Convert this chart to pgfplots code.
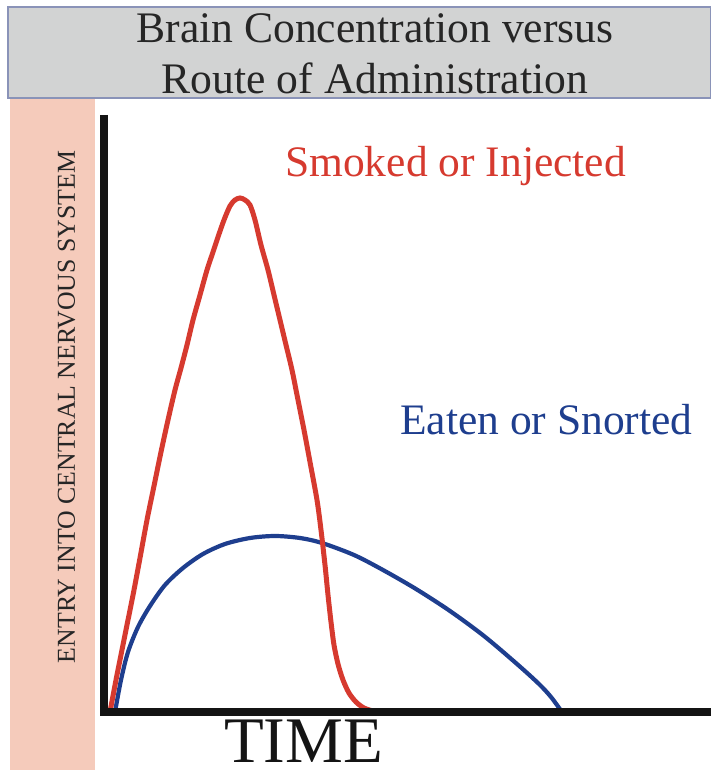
\documentclass[border=0pt]{standalone}
\usepackage{pgfplots}
\pgfplotsset{compat=1.18}
\usepackage{fontspec}
\setmainfont{Liberation Serif}
\definecolor{cred}{HTML}{D63A2F}
\definecolor{cblue}{HTML}{1E3E8E}
\definecolor{boxgray}{HTML}{D2D3D3}
\definecolor{boxedge}{HTML}{8A93B8}
\definecolor{bandpink}{HTML}{F5CBBB}
\definecolor{axblack}{HTML}{141414}
\begin{document}
\begin{tikzpicture}
\begin{axis}[
  anchor=origin, at={(0pt,0pt)},
  scale only axis, width=607pt, height=597pt,
  xmin=0, xmax=607, ymin=0, ymax=597,
  hide axis, clip=false,
]
% backgrounds
\fill[bandpink] (axis cs:-94,614) rectangle (axis cs:-9,-58);
\filldraw[fill=boxgray, draw=boxedge, line width=1.5pt] (axis cs:-96,705) rectangle (axis cs:607,614);
% title
\node[anchor=base, inner sep=0pt, font=\fontsize{43.6}{48}\selectfont, text=black!85] at (axis cs:271,669) {Brain Concentration versus};
\node[anchor=base, inner sep=0pt, font=\fontsize{43.6}{48}\selectfont, text=black!85] at (axis cs:271,618) {Route of Administration};
% curves
\addplot[cblue, line width=4.2pt, smooth, tension=0.5] coordinates {
(11,0) (17,32) (24,60) (34,85) (46,106) (61,127) (79,144) (99,158)
(121,168) (146,174) (171,176) (196,174) (218,169) (250,157) (279,142)
(312,123) (346,101) (380,76) (413,48) (435,28) (447,15) (458,0)
};
\addplot[cred, line width=5pt, smooth, tension=0.5] coordinates {
(6,0) (12,32) (18,62) (24,92) (30,122) (36,154) (43,192) (50,226) (57,260)
(64,292) (71,322) (77,344) (83,367) (89,392) (96,417) (103,442) (109,460)
(114,475) (120,492) (126,506) (131,512) (136,514) (141,512) (146,507)
(151,492) (157,467) (164,442) (170,417) (176,392) (182,367) (188,342)
(194,312) (200,282) (206,250) (213,212) (217,182) (221,147) (224,117)
(227,90) (230,67) (234,48) (239,32) (245,19) (252,10) (260,4) (269,1)
};
% axis lines
\draw[axblack, line width=8pt, line join=miter] (axis cs:0,597) -- (axis cs:0,0) -- (axis cs:607,0);
% labels
\node[anchor=base west, inner sep=0pt, font=\fontsize{43.5}{48}\selectfont, text=cred] at (axis cs:181,535) {Smoked or Injected};
\node[anchor=base west, inner sep=0pt, font=\fontsize{43.5}{48}\selectfont, text=cblue] at (axis cs:296,277) {Eaten or Snorted};
\node[anchor=base west, inner sep=0pt, font=\fontsize{65}{70}\selectfont, text=axblack] at (axis cs:120,-50) {TIME};
\node[anchor=base, rotate=90, inner sep=0pt, font=\fontsize{25.8}{28}\selectfont, text=black!85] at (axis cs:-29,305) {ENTRY INTO CENTRAL NERVOUS SYSTEM};
\end{axis}
\pgfresetboundingbox
\path (-104pt,-58pt) rectangle (607pt,712pt);
\end{tikzpicture}
\end{document}
